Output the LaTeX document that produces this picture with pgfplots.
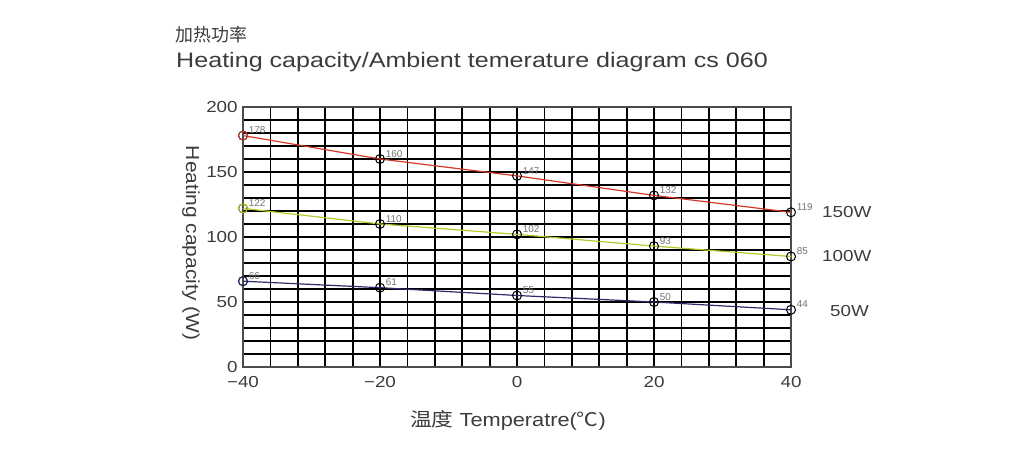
\documentclass[border=0pt]{standalone}
\usepackage{fontspec}
\setmainfont{Liberation Sans}
\newfontfamily\cjk{Noto Sans CJK SC}
\usepackage{pgfplots}
\pgfplotsset{compat=1.18}
\definecolor{cred}{RGB}{215,55,40}
\definecolor{cyel}{RGB}{185,200,40}
\definecolor{cblu}{RGB}{45,45,110}
\definecolor{ctxt}{RGB}{60,60,60}
\begin{document}
\begin{tikzpicture}[x=1bp,y=1bp]
\path[use as bounding box] (0,0) rectangle (1024,455);
\begin{axis}[at={(243bp,88bp)}, anchor=south west,
  width=548bp, height=260bp, scale only axis,
  xmin=-40, xmax=40, ymin=0, ymax=200,
  xtick={-40,-20,0,20,40},
  xticklabels={−40,−20,0,20,40},
  ytick={0,50,100,150,200},
  minor xtick={-36,-32,...,36},
  minor ytick={10,20,...,190},
  grid=both,
  major grid style={black, line width=1.8bp},
  minor grid style={black, line width=1.8bp},
  axis line style={black!70, line width=1.2bp},
  tick style={draw=none},
  ticklabel style={font=\fontsize{16}{16}\selectfont, text=ctxt, xscale=1.18},
  xticklabel style={yshift=-6bp},
  yticklabel style={xshift=-1bp},
  /pgf/number format/assume math mode=true,
  clip=false,
  every axis plot/.append style={line width=1.2bp},
  nodes near coords,
  point meta=explicit symbolic,
  every node near coord/.append style={font=\fontsize{10}{10}\selectfont, text=black!55, anchor=south west, xshift=2bp, yshift=-2bp},
]
\addplot[cred, mark=o, mark size=4.5bp, mark options={black, line width=1bp}] coordinates {
  (-40,178) [178] (-20,160) [160] (0,147) [147] (20,132) [132] (40,119) [119]};
\addplot[cyel, mark=o, mark size=4.5bp, mark options={black, line width=1bp}] coordinates {
  (-40,122) [122] (-20,110) [110] (0,102) [102] (20,93) [93] (40,85) [85]};
\addplot[cblu, mark=o, mark size=4.5bp, mark options={black, line width=1bp}] coordinates {
  (-40,66) [66] (-20,61) [61] (0,55) [55] (20,50) [50] (40,44) [44]};
\addplot[only marks, mark=o, mark size=4.5bp, cred, line width=1bp, nodes near coords=] coordinates {(-40,178)};
\addplot[only marks, mark=o, mark size=4.5bp, cyel, line width=1bp, nodes near coords=] coordinates {(-40,122)};
\addplot[only marks, mark=o, mark size=4.5bp, cblu, line width=1bp, nodes near coords=] coordinates {(-40,66)};
\end{axis}
\node[anchor=west, text=ctxt, font=\fontsize{16}{16}\selectfont, xscale=1.18] at (818,243) {150W};
\node[anchor=west, text=ctxt, font=\fontsize{16}{16}\selectfont, xscale=1.18] at (818,199) {100W};
\node[anchor=west, text=ctxt, font=\fontsize{16}{16}\selectfont, xscale=1.18] at (826,144) {50W};
\node[rotate=-90, text=ctxt, font=\fontsize{21}{21}\selectfont, yscale=0.9] at (191,212) {Heating capacity (W)};
\node[anchor=west, text=ctxt, font=\fontsize{18}{18}\selectfont\cjk] at (172,420) {加热功率};
\node[anchor=west, text=ctxt, font=\fontsize{21}{21}\selectfont, xscale=1.2] at (172,393) {Heating capacity/Ambient temerature diagram cs 060};
\node[text=ctxt, font=\fontsize{19}{19}\selectfont, xscale=1.15] at (508,35) {{\cjk 温度} Temperatre({\cjk ℃})};
\end{tikzpicture}
\end{document}
